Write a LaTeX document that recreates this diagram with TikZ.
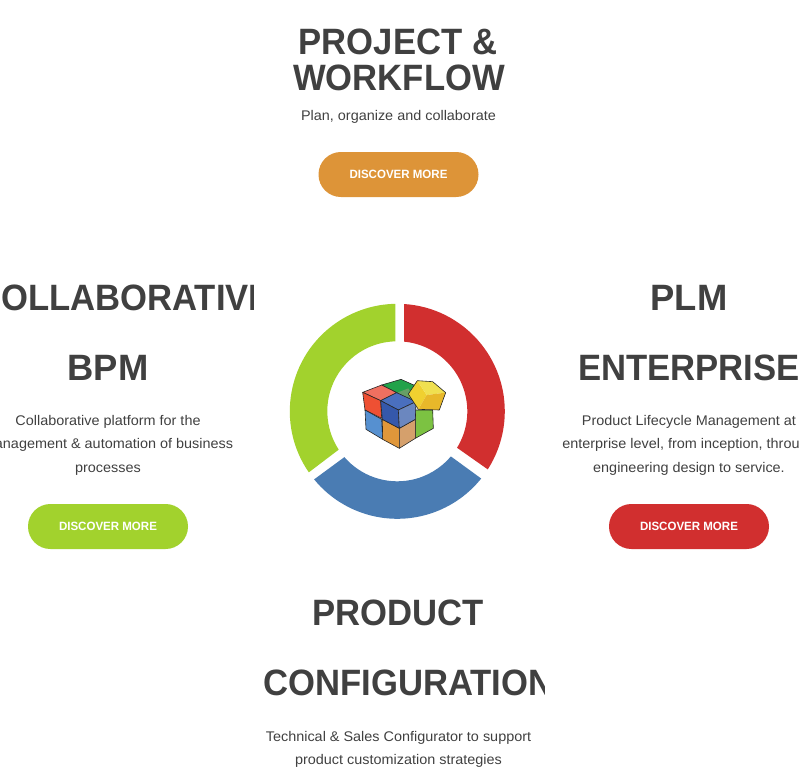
\documentclass[tikz,border=0pt]{standalone}
\usepackage{fontspec}
\setmainfont{Liberation Sans}
\newfontfamily\headfont[FakeStretch=0.945]{Liberation Sans Bold}
\newfontfamily\bodyfont[FakeStretch=1.03]{Liberation Sans}
\newfontfamily\btnfont[FakeStretch=0.96]{Liberation Sans Bold}
\usetikzlibrary{calc}
\definecolor{inkgrey}{HTML}{404040}
\definecolor{ringred}{HTML}{D12F2F}
\definecolor{ringblue}{HTML}{4A7CB3}
\definecolor{ringgreen}{HTML}{A2D22D}
\definecolor{btnorange}{HTML}{DD9438}
\definecolor{cuberedtop}{HTML}{F07060}
\definecolor{cuberedleft}{HTML}{EE5033}
\definecolor{cubegreentop}{HTML}{22A24A}
\definecolor{cubegreenmute}{HTML}{669F66}
\definecolor{cubegreenside}{HTML}{7CC242}
\definecolor{cubebluetop}{HTML}{4A6FBE}
\definecolor{cubeblueleft}{HTML}{3558AB}
\definecolor{cubeblueright}{HTML}{6B87BF}
\definecolor{cubeskyside}{HTML}{5690D0}
\definecolor{cubeorangeleft}{HTML}{E0973A}
\definecolor{cubeorangeright}{HTML}{D5A06C}
\definecolor{cubeyellowtop}{HTML}{F0E050}
\definecolor{cubeyellowleft}{HTML}{F0D030}
\definecolor{cubeyellowright}{HTML}{E8B82A}
\tikzset{
  headline/.style={anchor=base,text=inkgrey,font=\fontsize{27.5}{30}\headfont,inner sep=0pt},
  widehead/.style={headline,xscale=1.05,transform shape},
  blurb/.style={anchor=base,text=inkgrey,font=\fontsize{10.5}{12}\bodyfont,inner sep=0pt},
  button/.style={rectangle,rounded corners=16.8pt,minimum width=120pt,minimum height=33.75pt,inner sep=0pt,text=white,font=\fontsize{9}{10}\btnfont},
  facet/.style={draw=black!85,line width=0.45pt,line join=round},
}
% ring piece: outer from, outer to, inner to, inner from, colour
\newcommand{\ringpart}[5]{
\fill [#5] (397.3,411.3) ++(#1:107.5) arc [start angle=#1,end angle=#2,radius=107.5]
  -- ($(397.3,411.3)+(#3:70)$) arc [start angle=#3,end angle=#4,radius=70] -- cycle ;
}
\begin{document}
\begin{tikzpicture}[x=0.75pt,y=-0.75pt]
\useasboundingbox (0,0) rectangle (800,782);

% top block
\node [headline] (projectA) at (398,54.5) {PROJECT \&};
\node [headline] (projectB) at (399,90.5) {WORKFLOW};
\node [blurb] (projectC) at (398.5,120) {Plan, organize and collaborate};
\node [button,fill=btnorange] (projectBtn) at (398.5,174.5) {DISCOVER MORE};

% left block
\begin{scope}
\clip (0,270) rectangle (253,400);
\node [headline] (bpmA) at (124,310.5) {COLLABORATIVE};
\node [widehead] (bpmB) at (108,380.5) {BPM};
\end{scope}
\node [blurb] (bpmC) at (108,425) {Collaborative platform for the};
\node [blurb] (bpmD) at (108,448) {management \& automation of business};
\node [blurb] (bpmE) at (108,472) {processes};
\node [button,fill=ringgreen] (bpmBtn) at (108,526.5) {DISCOVER MORE};

% right block
\node [widehead] (plmA) at (689,310.5) {PLM};
\node [headline] (plmB) at (689,380.5) {ENTERPRISE};
\node [blurb] (plmC) at (689,425) {Product Lifecycle Management at};
\node [blurb] (plmD) at (689,448) {enterprise level, from inception, through};
\node [blurb] (plmE) at (689,472) {engineering design to service.};
\node [button,fill=ringred] (plmBtn) at (689,526.5) {DISCOVER MORE};

% bottom block
\node [headline] (confA) at (398.5,625.5) {PRODUCT};
\begin{scope}
\clip (253,650) rectangle (544,710);
\node [headline,anchor=base west] (confB) at (263,695.5) {CONFIGURATION};
\end{scope}
\node [blurb] (confC) at (398.5,741) {Technical \& Sales Configurator to support};
\node [blurb] (confD) at (398.5,764) {product customization strategies};

% ring
\ringpart{-86.4}{32.7}{31.4}{-84.5}{ringred}
\ringpart{38.7}{140.7}{139.1}{40.1}{ringblue}
\ringpart{145.4}{269}{268.4}{146.8}{ringgreen}

% cube, in 3x crop units
\begin{scope}[shift={(340,360)},x=0.25pt,y=-0.25pt]
\filldraw [facet,fill=cubegreentop] (125,75) -- (183,58) -- (228,78) -- (228,125) -- (170,98) -- cycle ;
\fill [cubegreenmute] (172,98) -- (205,85) -- (227,124) -- cycle ;
\filldraw [facet,fill=cuberedtop] (68,97) -- (125,75) -- (170,98) -- (122,122) -- cycle ;
\filldraw [facet,fill=cuberedleft] (68,97) -- (122,122) -- (125,175) -- (75,150) -- cycle ;
\filldraw [facet,fill=cubeskyside] (75,150) -- (125,178) -- (128,238) -- (78,208) -- cycle ;
\filldraw [facet,fill=cubegreenside] (226,150) -- (278,150) -- (280,205) -- (226,235) -- cycle ;
\filldraw [facet,fill=cubeorangeleft] (127,178) -- (178,205) -- (178,265) -- (128,238) -- cycle ;
\filldraw [facet,fill=cubeorangeright] (178,205) -- (226,178) -- (226,235) -- (178,265) -- cycle ;
\filldraw [facet,fill=cubebluetop] (122,122) -- (170,98) -- (228,125) -- (175,150) -- cycle ;
\filldraw [facet,fill=cubeblueleft] (122,122) -- (175,150) -- (178,205) -- (127,178) -- cycle ;
\filldraw [facet,fill=cubeblueright] (175,150) -- (228,125) -- (226,178) -- (178,205) -- cycle ;
% yellow block
\fill [cubeyellowleft] (205,102) -- (232,62) -- (260,105) -- (235,148) -- cycle ;
\fill [cubeyellowtop] (232,62) -- (278,65) -- (317,98) -- (260,105) -- cycle ;
\fill [cubeyellowright] (260,105) -- (317,98) -- (298,150) -- (235,148) -- cycle ;
\draw [facet] (205,102) -- (232,62) -- (278,65) -- (317,98) -- (298,150) -- (235,148) -- cycle ;
\end{scope}

\end{tikzpicture}
\end{document}
